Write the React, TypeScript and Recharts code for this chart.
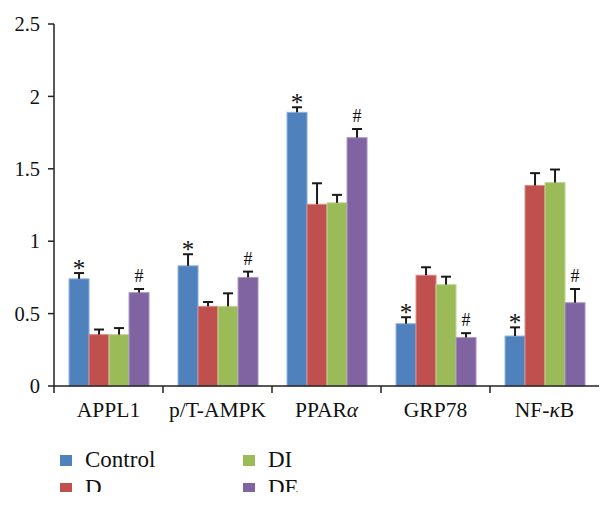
import { BarChart, Bar, XAxis, YAxis, Legend } from 'recharts';

const FONT = 'Liberation Serif, DejaVu Serif, serif';

const categories = ['APPL1', 'p/T-AMPK', 'PPARα', 'GRP78', 'NF-κB'];

const control = [0.74, 0.83, 1.89, 0.43, 0.345];
const controlErr = [0.04, 0.08, 0.035, 0.045, 0.06];
const controlMark = ['*', '*', '*', '*', '*'];

const dGroup = [0.355, 0.55, 1.255, 0.765, 1.385];
const dErr = [0.035, 0.03, 0.145, 0.055, 0.085];

const diGroup = [0.355, 0.55, 1.265, 0.7, 1.405];
const diErr = [0.045, 0.09, 0.055, 0.055, 0.09];

const deGroup = [0.645, 0.75, 1.715, 0.335, 0.575];
const deErr = [0.025, 0.04, 0.06, 0.03, 0.095];
const deMark = ['#', '#', '#', '#', '#'];

const yTicks = [0, 0.5, 1, 1.5, 2, 2.5];

const series = [
  { key: 'control', name: 'Control', color: '#4F81BD', edge: '#8fb0da' },
  { key: 'd', name: 'D', color: '#C0504D', edge: '#d98b89' },
  { key: 'di', name: 'DI', color: '#9BBB59', edge: '#c0d696' },
  { key: 'de', name: 'DE', color: '#8064A2', edge: '#ad98c6' },
];

const data = categories.map((name, i) => ({
  name,
  control: control[i],
  controlErr: controlErr[i],
  controlMark: controlMark[i],
  d: dGroup[i],
  dErr: dErr[i],
  di: diGroup[i],
  diErr: diErr[i],
  de: deGroup[i],
  deErr: deErr[i],
  deMark: deMark[i],
}));

// bar + upward error whisker + significance mark
const makeShape = (key: string, color: string, edge: string) => (props: any) => {
  const { x, y, width, height, payload } = props;
  const v = payload[key];
  const err = payload[key + 'Err'] || 0;
  const mark = payload[key + 'Mark'];
  const px = v ? height / v : 0;
  const cx = x + width / 2;
  const top = y - err * px;
  return (
    <g>
      <rect x={x} y={y} width={width} height={height} fill={color} stroke={edge} strokeWidth={1} />
      <line x1={cx} x2={cx} y1={y} y2={top} stroke="#1a1a1a" strokeWidth={2} />
      <line x1={cx - 5} x2={cx + 5} y1={top} y2={top} stroke="#1a1a1a" strokeWidth={2} />
      {mark && (
        <text
          x={cx}
          y={mark === '*' ? top + 4 : top - 7}
          textAnchor="middle"
          style={{ fontFamily: FONT }}
          fontSize={mark === '*' ? 25 : 18}
          fill="#111"
        >
          {mark}
        </text>
      )}
    </g>
  );
};

const CategoryTick = (props: any) => {
  const { x, y, payload, width, visibleTicksCount } = props;
  const half = width / (visibleTicksCount || 5) / 2;
  const label = String(payload.value);
  const greek = label.match(/[ακ]/);
  let content: any = label;
  if (greek) {
    const i = label.indexOf(greek[0]);
    content = (
      <>
        {label.slice(0, i)}
        <tspan fontStyle="italic">{greek[0]}</tspan>
        {label.slice(i + 1)}
      </>
    );
  }
  return (
    <g>
      <line x1={x - half} x2={x - half} y1={y - 8} y2={y - 1} stroke="#222" strokeWidth={1.5} />
      <text x={x} y={y + 23} textAnchor="middle" style={{ fontFamily: FONT }} fontSize={21.5} fill="#111">
        {content}
      </text>
    </g>
  );
};

const renderLegend = () => (
  <div
    style={{
      display: 'grid',
      gridTemplateColumns: '183px 120px',
      gridTemplateRows: '28px 28px',
      gridAutoFlow: 'column',
      fontFamily: FONT,
      fontSize: 23,
      color: '#111',
    }}
  >
    {series.map((s) => (
      <div key={s.key} style={{ display: 'flex', alignItems: 'center', lineHeight: '28px' }}>
        <span style={{ width: 12, height: 11, background: s.color, marginRight: 13, display: 'inline-block' }} />
        <span>{s.name}</span>
      </div>
    ))}
  </div>
);

export default function App() {
  return (
    <div style={{ width: 612, height: 508, background: '#fff', position: 'relative', fontFamily: FONT }}>
      <style>{'body{margin:0}'}</style>
      <BarChart
        width={612}
        height={508}
        data={data}
        margin={{ top: 24, right: 13, bottom: 82, left: 0 }}
        barCategoryGap="13.8%"
        barGap={0}
        style={{ fontFamily: FONT }}
      >
        <XAxis
          dataKey="name"
          height={40}
          axisLine={{ stroke: '#222', strokeWidth: 1.5 }}
          tickLine={false}
          tickSize={6}
          tickMargin={2}
          interval={0}
          tick={<CategoryTick />}
        />
        <YAxis
          width={54}
          domain={[0, 2.5]}
          ticks={yTicks}
          interval={0}
          axisLine={{ stroke: '#222', strokeWidth: 1.5 }}
          tickLine={{ stroke: '#222', strokeWidth: 1.5 }}
          tickSize={6}
          tickMargin={8}
          tick={{ fontSize: 20.5, fill: '#111', style: { fontFamily: FONT } }}
        />
        <Legend
          layout="horizontal"
          verticalAlign="middle"
          align="center"
          wrapperStyle={{ top: 446, left: 60, width: 320, height: 46, overflow: 'hidden' }}
          content={renderLegend}
        />
        {series.map((s) => (
          <Bar
            key={s.key}
            dataKey={s.key}
            name={s.name}
            fill={s.color}
            isAnimationActive={false}
            shape={makeShape(s.key, s.color, s.edge)}
          />
        ))}
      </BarChart>
    </div>
  );
}
